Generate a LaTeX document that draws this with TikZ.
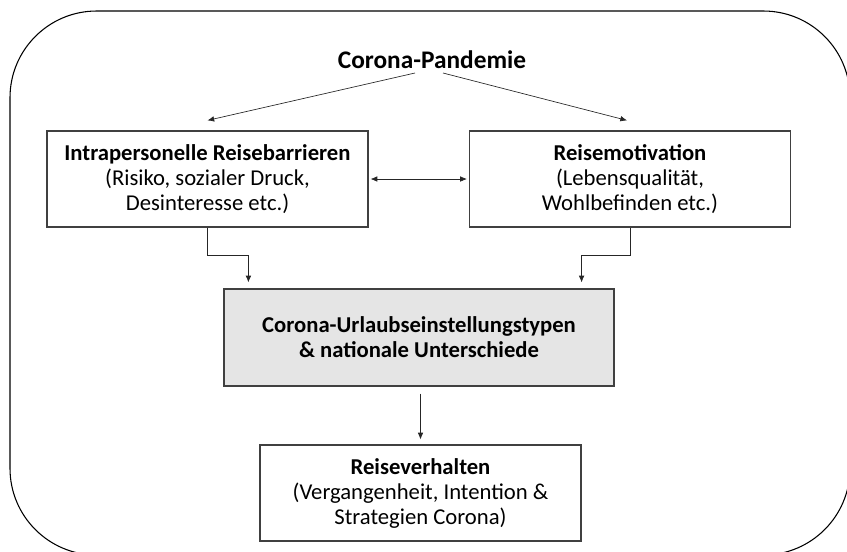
\documentclass[tikz,border=0pt]{standalone}
\usepackage{fontspec}
\setmainfont{Carlito}
\usetikzlibrary{arrows.meta,calc}

\begin{document}
\begin{tikzpicture}[x=0.75pt,y=-0.75pt,
  box/.style={draw=black!75,line width=0.9pt,align=center,inner sep=0pt,
    minimum width=240.75pt,minimum height=72pt,
    font=\fontsize{17}{18.75}\selectfont},
  pfeil/.style={-{Latex[length=5pt,width=4.2pt]},line width=0.5pt,black!85}]
\useasboundingbox (0,0) rectangle (847,551);
\clip (0,0) rectangle (847,551);
% frame
\draw[line width=0.8pt,rounded corners=65pt] (10,11) rectangle (850,555);
% cause
\node[font=\fontsize{19}{22}\selectfont\bfseries] (pan) at (432,60) {Corona-Pandemie};
% barriers and motivation
\node[box] (intra) at (207.5,179) {\textbf{Intrapersonelle Reisebarrieren}\\(Risiko, sozialer Druck,\\Desinteresse etc.)};
\node[box] (motiv) at (630,179) {\textbf{Reisemotivation}\\(Lebensqualität,\\Wohlbefinden etc.)};
% types
\node[box,fill=black!10,minimum width=292.5pt,minimum height=72.75pt,
  font=\fontsize{17}{18.75}\selectfont\bfseries] (typen) at (419,337.5)
  {Corona-Urlaubseinstellungstypen\\\& nationale Unterschiede};
% behaviour
\node[box] (verh) at (420.5,493) {\textbf{Reiseverhalten}\\(Vergangenheit, Intention \&\\Strategien Corona)};
% connectors
\draw[pfeil] ($(pan.center)+(-17,13)$) -- ($(intra.north)+(0,-10)$);
\draw[pfeil] ($(pan.center)+(11,13)$) -- ($(motiv.north)+(-3,-10)$);
\draw[pfeil,{Latex[length=5pt,width=4.2pt]}-{Latex[length=5pt,width=4.2pt]},
  shorten <=1.5pt,shorten >=1.5pt] (intra.east) -- (motiv.west);
\draw[pfeil] (intra.south) -- ++(0,28) -| ($(typen.north west)+(25,-6)$);
\draw[pfeil] (motiv.south) -- ++(0,28) -| ($(typen.north east)+(-33,-6)$);
\draw[pfeil] ($(typen.south)+(1.5,7)$) -- ($(verh.north)+(0,-5)$);
\end{tikzpicture}
\end{document}
